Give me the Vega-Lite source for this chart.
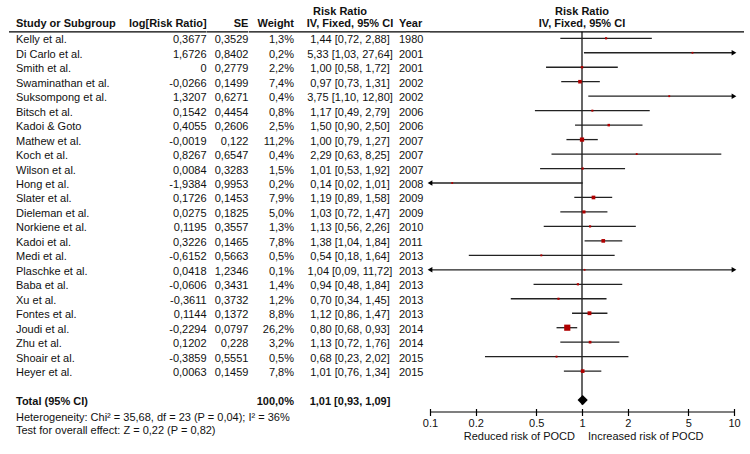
{
  "$schema": "https://vega.github.io/schema/vega-lite/v6.json",
  "padding": {"left": 8, "top": 0, "right": 0, "bottom": 0},
  "bounds": "flush",
  "spacing": 0,
  "config": {
    "view": {"stroke": null},
    "font": "Liberation Sans",
    "text": {"font": "Liberation Sans", "fontSize": 11, "color": "#111"},
    "concat": {"spacing": 0}
  },
  "datasets": {
    "rows": [
      {"row": 1, "study": "Kelly et al.", "lrr": "0,3677", "se": "0,3529", "wt": "1,3%", "ci": "1,44 [0,72, 2,88]", "year": "1980", "rr": 1.44, "lo": 0.72, "hi": 2.88, "w": 1.3, "kind": "study"},
      {"row": 2, "study": "Di Carlo et al.", "lrr": "1,6726", "se": "0,8402", "wt": "0,2%", "ci": "5,33 [1,03, 27,64]", "year": "2001", "rr": 5.33, "lo": 1.03, "hi": 27.64, "w": 0.2, "kind": "study"},
      {"row": 3, "study": "Smith et al.", "lrr": "0", "se": "0,2779", "wt": "2,2%", "ci": "1,00 [0,58, 1,72]", "year": "2001", "rr": 1.0, "lo": 0.58, "hi": 1.72, "w": 2.2, "kind": "study"},
      {"row": 4, "study": "Swaminathan et al.", "lrr": "-0,0266", "se": "0,1499", "wt": "7,4%", "ci": "0,97 [0,73, 1,31]", "year": "2002", "rr": 0.97, "lo": 0.73, "hi": 1.31, "w": 7.4, "kind": "study"},
      {"row": 5, "study": "Suksompong et al.", "lrr": "1,3207", "se": "0,6271", "wt": "0,4%", "ci": "3,75 [1,10, 12,80]", "year": "2002", "rr": 3.75, "lo": 1.10, "hi": 12.80, "w": 0.4, "kind": "study"},
      {"row": 6, "study": "Bitsch et al.", "lrr": "0,1542", "se": "0,4454", "wt": "0,8%", "ci": "1,17 [0,49, 2,79]", "year": "2006", "rr": 1.17, "lo": 0.49, "hi": 2.79, "w": 0.8, "kind": "study"},
      {"row": 7, "study": "Kadoi & Goto", "lrr": "0,4055", "se": "0,2606", "wt": "2,5%", "ci": "1,50 [0,90, 2,50]", "year": "2006", "rr": 1.50, "lo": 0.90, "hi": 2.50, "w": 2.5, "kind": "study"},
      {"row": 8, "study": "Mathew et al.", "lrr": "-0,0019", "se": "0,122", "wt": "11,2%", "ci": "1,00 [0,79, 1,27]", "year": "2007", "rr": 1.00, "lo": 0.79, "hi": 1.27, "w": 11.2, "kind": "study"},
      {"row": 9, "study": "Koch et al.", "lrr": "0,8267", "se": "0,6547", "wt": "0,4%", "ci": "2,29 [0,63, 8,25]", "year": "2007", "rr": 2.29, "lo": 0.63, "hi": 8.25, "w": 0.4, "kind": "study"},
      {"row": 10, "study": "Wilson et al.", "lrr": "0,0084", "se": "0,3283", "wt": "1,5%", "ci": "1,01 [0,53, 1,92]", "year": "2007", "rr": 1.01, "lo": 0.53, "hi": 1.92, "w": 1.5, "kind": "study"},
      {"row": 11, "study": "Hong et al.", "lrr": "-1,9384", "se": "0,9953", "wt": "0,2%", "ci": "0,14 [0,02, 1,01]", "year": "2008", "rr": 0.14, "lo": 0.02, "hi": 1.01, "w": 0.2, "kind": "study"},
      {"row": 12, "study": "Slater et al.", "lrr": "0,1726", "se": "0,1453", "wt": "7,9%", "ci": "1,19 [0,89, 1,58]", "year": "2009", "rr": 1.19, "lo": 0.89, "hi": 1.58, "w": 7.9, "kind": "study"},
      {"row": 13, "study": "Dieleman et al.", "lrr": "0,0275", "se": "0,1825", "wt": "5,0%", "ci": "1,03 [0,72, 1,47]", "year": "2009", "rr": 1.03, "lo": 0.72, "hi": 1.47, "w": 5.0, "kind": "study"},
      {"row": 14, "study": "Norkiene et al.", "lrr": "0,1195", "se": "0,3557", "wt": "1,3%", "ci": "1,13 [0,56, 2,26]", "year": "2010", "rr": 1.13, "lo": 0.56, "hi": 2.26, "w": 1.3, "kind": "study"},
      {"row": 15, "study": "Kadoi et al.", "lrr": "0,3226", "se": "0,1465", "wt": "7,8%", "ci": "1,38 [1,04, 1,84]", "year": "2011", "rr": 1.38, "lo": 1.04, "hi": 1.84, "w": 7.8, "kind": "study"},
      {"row": 16, "study": "Medi et al.", "lrr": "-0,6152", "se": "0,5663", "wt": "0,5%", "ci": "0,54 [0,18, 1,64]", "year": "2013", "rr": 0.54, "lo": 0.18, "hi": 1.64, "w": 0.5, "kind": "study"},
      {"row": 17, "study": "Plaschke et al.", "lrr": "0,0418", "se": "1,2346", "wt": "0,1%", "ci": "1,04 [0,09, 11,72]", "year": "2013", "rr": 1.04, "lo": 0.09, "hi": 11.72, "w": 0.1, "kind": "study"},
      {"row": 18, "study": "Baba et al.", "lrr": "-0,0606", "se": "0,3431", "wt": "1,4%", "ci": "0,94 [0,48, 1,84]", "year": "2013", "rr": 0.94, "lo": 0.48, "hi": 1.84, "w": 1.4, "kind": "study"},
      {"row": 19, "study": "Xu et al.", "lrr": "-0,3611", "se": "0,3732", "wt": "1,2%", "ci": "0,70 [0,34, 1,45]", "year": "2013", "rr": 0.70, "lo": 0.34, "hi": 1.45, "w": 1.2, "kind": "study"},
      {"row": 20, "study": "Fontes et al.", "lrr": "0,1144", "se": "0,1372", "wt": "8,8%", "ci": "1,12 [0,86, 1,47]", "year": "2013", "rr": 1.12, "lo": 0.86, "hi": 1.47, "w": 8.8, "kind": "study"},
      {"row": 21, "study": "Joudi et al.", "lrr": "-0,2294", "se": "0,0797", "wt": "26,2%", "ci": "0,80 [0,68, 0,93]", "year": "2014", "rr": 0.80, "lo": 0.68, "hi": 0.93, "w": 26.2, "kind": "study"},
      {"row": 22, "study": "Zhu et al.", "lrr": "0,1202", "se": "0,228", "wt": "3,2%", "ci": "1,13 [0,72, 1,76]", "year": "2014", "rr": 1.13, "lo": 0.72, "hi": 1.76, "w": 3.2, "kind": "study"},
      {"row": 23, "study": "Shoair et al.", "lrr": "-0,3859", "se": "0,5551", "wt": "0,5%", "ci": "0,68 [0,23, 2,02]", "year": "2015", "rr": 0.68, "lo": 0.23, "hi": 2.02, "w": 0.5, "kind": "study"},
      {"row": 24, "study": "Heyer et al.", "lrr": "0,0063", "se": "0,1459", "wt": "7,8%", "ci": "1,01 [0,76, 1,34]", "year": "2015", "rr": 1.01, "lo": 0.76, "hi": 1.34, "w": 7.8, "kind": "study"},
      {"row": 26, "study": "Total (95% CI)", "lrr": "", "se": "", "wt": "100,0%", "ci": "1,01 [0,93, 1,09]", "year": "", "rr": 1.01, "lo": 0.93, "hi": 1.09, "w": 100, "kind": "total"}
    ]
  },
  "hconcat": [
    {
      "width": 122, "height": 412,
      "layer": [
        {"data": {"values": [{}]}, "mark": {"type": "rule", "color": "#000", "strokeWidth": 1.2}, "encoding": {"x": {"value": 0}, "x2": {"value": "width"}, "y": {"datum": 0.55, "type": "quantitative", "scale": {"domain": [-1.647, 26.826], "reverse": true, "nice": false, "zero": false}, "axis": null}}},
        {"data": {"values": [{}]}, "mark": {"type": "text", "text": "Study or Subgroup", "align": "left", "fontWeight": "bold", "dx": 7}, "encoding": {"x": {"value": 0}, "y": {"datum": 0, "type": "quantitative"}}},
        {"data": {"name": "rows"}, "transform": [{"filter": "datum.kind == 'study'"}], "mark": {"type": "text", "align": "left", "dx": 7, "dy": 2}, "encoding": {"x": {"value": 0}, "y": {"field": "row", "type": "quantitative"}, "text": {"field": "study"}}},
        {"data": {"name": "rows"}, "transform": [{"filter": "datum.kind == 'total'"}], "mark": {"type": "text", "align": "left", "dx": 7, "dy": 2, "fontWeight": "bold"}, "encoding": {"x": {"value": 0}, "y": {"field": "row", "type": "quantitative"}, "text": {"field": "study"}}},
        {"data": {"values": [{}]}, "mark": {"type": "text", "text": "Heterogeneity: Chi² = 35,68, df = 23 (P = 0,04); I² = 36%", "align": "left", "dx": 7}, "encoding": {"x": {"value": 0}, "y": {"datum": 27.22, "type": "quantitative"}}},
        {"data": {"values": [{}]}, "mark": {"type": "text", "text": "Test for overall effect: Z = 0,22 (P = 0,82)", "align": "left", "dx": 7}, "encoding": {"x": {"value": 0}, "y": {"datum": 28.12, "type": "quantitative"}}}
      ]
    },
    {
      "width": 75.6, "height": 412,
      "layer": [
        {"data": {"values": [{}]}, "mark": {"type": "rule", "color": "#000", "strokeWidth": 1.2}, "encoding": {"x": {"value": 0}, "x2": {"value": "width"}, "y": {"datum": 0.55, "type": "quantitative", "scale": {"domain": [-1.647, 26.826], "reverse": true, "nice": false, "zero": false}, "axis": null}}},
        {"data": {"values": [{}]}, "mark": {"type": "text", "text": "log[Risk Ratio]", "align": "right", "fontWeight": "bold"}, "encoding": {"x": {"value": "width"}, "y": {"datum": 0, "type": "quantitative"}}},
        {"data": {"name": "rows"}, "transform": [{"filter": "datum.kind == 'study'"}], "mark": {"type": "text", "align": "right", "dy": 2}, "encoding": {"x": {"value": "width"}, "y": {"field": "row", "type": "quantitative"}, "text": {"field": "lrr"}}}
      ]
    },
    {
      "width": 41.4, "height": 412,
      "layer": [
        {"data": {"values": [{}]}, "mark": {"type": "rule", "color": "#000", "strokeWidth": 1.2}, "encoding": {"x": {"value": 0}, "x2": {"value": "width"}, "y": {"datum": 0.55, "type": "quantitative", "scale": {"domain": [-1.647, 26.826], "reverse": true, "nice": false, "zero": false}, "axis": null}}},
        {"data": {"values": [{}]}, "mark": {"type": "text", "text": "SE", "align": "right", "fontWeight": "bold"}, "encoding": {"x": {"value": "width"}, "y": {"datum": 0, "type": "quantitative"}}},
        {"data": {"name": "rows"}, "transform": [{"filter": "datum.kind == 'study'"}], "mark": {"type": "text", "align": "right", "dy": 2}, "encoding": {"x": {"value": "width"}, "y": {"field": "row", "type": "quantitative"}, "text": {"field": "se"}}}
      ]
    },
    {
      "width": 45, "height": 412,
      "layer": [
        {"data": {"values": [{}]}, "mark": {"type": "rule", "color": "#000", "strokeWidth": 1.2}, "encoding": {"x": {"value": 0}, "x2": {"value": "width"}, "y": {"datum": 0.55, "type": "quantitative", "scale": {"domain": [-1.647, 26.826], "reverse": true, "nice": false, "zero": false}, "axis": null}}},
        {"data": {"values": [{}]}, "mark": {"type": "text", "text": "Weight", "align": "right", "fontWeight": "bold"}, "encoding": {"x": {"value": "width"}, "y": {"datum": 0, "type": "quantitative"}}},
        {"data": {"name": "rows"}, "transform": [{"filter": "datum.kind == 'study'"}], "mark": {"type": "text", "align": "right", "dy": 2}, "encoding": {"x": {"value": "width"}, "y": {"field": "row", "type": "quantitative"}, "text": {"field": "wt"}}},
        {"data": {"name": "rows"}, "transform": [{"filter": "datum.kind == 'total'"}], "mark": {"type": "text", "align": "right", "dy": 2, "fontWeight": "bold"}, "encoding": {"x": {"value": "width"}, "y": {"field": "row", "type": "quantitative"}, "text": {"field": "wt"}}}
      ]
    },
    {
      "width": 112, "height": 412,
      "layer": [
        {"data": {"values": [{}]}, "mark": {"type": "rule", "color": "#000", "strokeWidth": 1.2}, "encoding": {"x": {"value": 0}, "x2": {"value": "width"}, "y": {"datum": 0.55, "type": "quantitative", "scale": {"domain": [-1.647, 26.826], "reverse": true, "nice": false, "zero": false}, "axis": null}}},
        {"data": {"values": [{}]}, "mark": {"type": "text", "text": "Risk Ratio", "align": "center", "fontWeight": "bold", "dx": -10}, "encoding": {"y": {"datum": -0.85, "type": "quantitative"}}},
        {"data": {"values": [{}]}, "mark": {"type": "text", "text": "IV, Fixed, 95% CI", "align": "center", "fontWeight": "bold"}, "encoding": {"y": {"datum": 0, "type": "quantitative"}}},
        {"data": {"name": "rows"}, "transform": [{"filter": "datum.kind == 'study'"}], "mark": {"type": "text", "align": "center", "dy": 2}, "encoding": {"y": {"field": "row", "type": "quantitative"}, "text": {"field": "ci"}}},
        {"data": {"name": "rows"}, "transform": [{"filter": "datum.kind == 'total'"}], "mark": {"type": "text", "align": "center", "dy": 2, "fontWeight": "bold"}, "encoding": {"y": {"field": "row", "type": "quantitative"}, "text": {"field": "ci"}}}
      ]
    },
    {
      "width": 24, "height": 412,
      "layer": [
        {"data": {"values": [{}]}, "mark": {"type": "rule", "color": "#000", "strokeWidth": 1.2}, "encoding": {"x": {"value": 0}, "x2": {"value": "width"}, "y": {"datum": 0.55, "type": "quantitative", "scale": {"domain": [-1.647, 26.826], "reverse": true, "nice": false, "zero": false}, "axis": null}}},
        {"data": {"values": [{}]}, "mark": {"type": "text", "text": "Year", "align": "left", "fontWeight": "bold", "dx": -7}, "encoding": {"x": {"value": 0}, "y": {"datum": 0, "type": "quantitative"}}},
        {"data": {"name": "rows"}, "transform": [{"filter": "datum.kind == 'study'"}], "mark": {"type": "text", "align": "left", "dx": -7, "dy": 2}, "encoding": {"x": {"value": 0}, "y": {"field": "row", "type": "quantitative"}, "text": {"field": "year"}}}
      ]
    },
    {
      "width": 314, "height": 412,
      "layer": [
        {"data": {"values": [{}]}, "mark": {"type": "rule", "color": "#000", "strokeWidth": 1.2}, "encoding": {"x": {"value": 0}, "x2": {"value": "width"}, "y": {"datum": 0.55, "type": "quantitative", "scale": {"domain": [-1.647, 26.826], "reverse": true, "nice": false, "zero": false}, "axis": null}}},
        {"data": {"values": [{}]}, "mark": {"type": "rule", "color": "#000", "strokeWidth": 1.2}, "encoding": {"x": {"datum": 1, "type": "quantitative"}, "y": {"datum": 0.55, "type": "quantitative"}, "y2": {"datum": 26.3}}},
        {"data": {"name": "rows"}, "transform": [{"filter": "datum.kind == 'study'"}], "mark": {"type": "rule", "color": "#222", "strokeWidth": 1.3},
          "encoding": {
            "x": {"field": "lo", "type": "quantitative", "scale": {"type": "log", "domain": [0.1, 10], "range": [0, 304], "clamp": true},
              "axis": {"values": [0.1, 0.2, 0.5, 1, 2, 5, 10], "format": "~g", "domain": false, "grid": false, "ticks": true, "tickSize": 7, "tickWidth": 1.2, "tickColor": "#000", "offset": -3.5, "labelPadding": 2, "labelFontSize": 11, "labelFont": "Liberation Sans", "labelColor": "#111", "title": null, "labelFlush": false, "labelOverlap": false}},
            "x2": {"field": "hi"},
            "y": {"field": "row", "type": "quantitative"}
          }
        },
        {"data": {"name": "rows"}, "transform": [{"filter": "datum.hi > 10"}], "mark": {"type": "point", "shape": "triangle-right", "filled": true, "color": "#000", "size": 30, "opacity": 1}, "encoding": {"x": {"field": "hi", "type": "quantitative"}, "y": {"field": "row", "type": "quantitative"}}},
        {"data": {"name": "rows"}, "transform": [{"filter": "datum.lo < 0.1"}], "mark": {"type": "point", "shape": "triangle-left", "filled": true, "color": "#000", "size": 30, "opacity": 1}, "encoding": {"x": {"field": "lo", "type": "quantitative"}, "y": {"field": "row", "type": "quantitative"}}},
        {"data": {"name": "rows"}, "transform": [{"filter": "datum.kind == 'study'"}], "mark": {"type": "point", "shape": "square", "filled": true, "color": "#b00000", "opacity": 1},
          "encoding": {"x": {"field": "rr", "type": "quantitative"}, "y": {"field": "row", "type": "quantitative"}, "size": {"field": "w", "type": "quantitative", "scale": {"domain": [0, 26.2], "range": [3, 38]}, "legend": null}}},
        {"data": {"name": "rows"}, "transform": [{"filter": "datum.kind == 'total'"}], "mark": {"type": "point", "shape": "diamond", "filled": true, "color": "#000", "size": 105, "opacity": 1}, "encoding": {"x": {"field": "rr", "type": "quantitative"}, "y": {"field": "row", "type": "quantitative"}}},
        {"data": {"values": [{}]}, "mark": {"type": "rule", "color": "#000", "strokeWidth": 1.2}, "encoding": {"x": {"datum": 0.1, "type": "quantitative"}, "x2": {"datum": 10}, "y": {"value": "height"}}},
        {"data": {"values": [{}]}, "mark": {"type": "text", "text": "Risk Ratio", "align": "center", "fontWeight": "bold"}, "encoding": {"x": {"datum": 1, "type": "quantitative"}, "y": {"datum": -0.85, "type": "quantitative"}}},
        {"data": {"values": [{}]}, "mark": {"type": "text", "text": "IV, Fixed, 95% CI", "align": "center", "fontWeight": "bold"}, "encoding": {"x": {"datum": 1, "type": "quantitative"}, "y": {"datum": 0, "type": "quantitative"}}},
        {"data": {"values": [{}]}, "mark": {"type": "text", "text": "Reduced risk of POCD", "align": "right", "dx": -7}, "encoding": {"x": {"datum": 1, "type": "quantitative"}, "y": {"datum": 28.53, "type": "quantitative"}}},
        {"data": {"values": [{}]}, "mark": {"type": "text", "text": "Increased risk of POCD", "align": "left", "dx": 6}, "encoding": {"x": {"datum": 1, "type": "quantitative"}, "y": {"datum": 28.53, "type": "quantitative"}}}
      ]
    }
  ]
}
